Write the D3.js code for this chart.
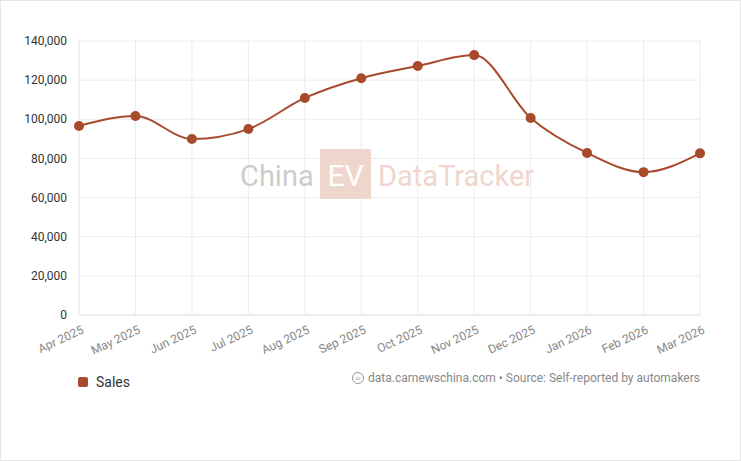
<!DOCTYPE html><html><head><meta charset="utf-8">
<script src="https://cdn.jsdelivr.net/npm/d3@7"></script>
<style>body{margin:0;background:#fff;font-family:Roboto,sans-serif}</style></head><body>
<svg id="c" width="741" height="461"></svg>
<script>
const months=["Apr 2025","May 2025","Jun 2025","Jul 2025","Aug 2025","Sep 2025","Oct 2025","Nov 2025","Dec 2025","Jan 2026","Feb 2026","Mar 2026"];
const sales=[96600,101700,89900,95000,110900,121000,127200,132800,100700,82800,73000,82600];
const yTicks=[0,20000,40000,60000,80000,100000,120000,140000];
const color="#a84a2c";
const svg=d3.select("#c");
svg.append("rect").attr("x",0.5).attr("y",0.5).attr("width",740).attr("height",460).attr("fill","#fff").attr("stroke","#e6e6e6");
const L=79,R=700,T=41,B=315;
const x=d3.scalePoint().domain(months).range([L,R]);
const y=d3.scaleLinear().domain([0,140000]).range([B,T]);
const g=svg.append("g");
yTicks.forEach(t=>{g.append("line").attr("x1",L).attr("x2",R).attr("y1",y(t)).attr("y2",y(t)).attr("stroke",t===0?"#d8d8d8":"#ececec");
 g.append("text").attr("x",L-12).attr("y",y(t)).attr("dy","0.35em").attr("text-anchor","end").attr("font-size",12).attr("fill","#333").text(d3.format(",")(t));});
months.forEach(m=>{g.append("line").attr("x1",x(m)).attr("x2",x(m)).attr("y1",T).attr("y2",B).attr("stroke","#ececec");
 g.append("text").attr("transform",`translate(${x(m)+2},${B+10}) rotate(-25)`).attr("text-anchor","end").attr("dy","0.7em").attr("font-size",12).attr("fill","#888").text(m);});
g.append("line").attr("x1",L).attr("x2",L).attr("y1",T).attr("y2",B).attr("stroke","#ececec");
const wm=svg.append("g");
wm.append("text").attr("x",240).attr("y",186).attr("font-size",29).attr("fill","#cccccc").text("China");
wm.append("rect").attr("x",320).attr("y",149).attr("width",51).attr("height",50).attr("fill","#efd6cd");
wm.append("text").attr("x",345.5).attr("y",186).attr("text-anchor","middle").attr("font-size",30).attr("fill","#fff").text("EV");
wm.append("text").attr("x",378).attr("y",186).attr("font-size",29).attr("fill","#efd6cd").text("DataTracker");
const line=d3.line().x((d,i)=>x(months[i])).y(d=>y(d)).curve(d3.curveMonotoneX);
svg.append("path").datum(sales).attr("d",line).attr("fill","none").attr("stroke",color).attr("stroke-width",2);
svg.selectAll("circle.p").data(sales).join("circle").attr("cx",(d,i)=>x(months[i])).attr("cy",d=>y(d)).attr("r",5).attr("fill",color);
svg.append("rect").attr("x",78).attr("y",377).attr("width",10).attr("height",10).attr("rx",2).attr("fill",color);
svg.append("text").attr("x",96).attr("y",382).attr("dy","0.35em").attr("font-size",14).attr("fill","#333").text("Sales");
svg.append("circle").attr("cx",358).attr("cy",378).attr("r",5.5).attr("fill","none").attr("stroke","#999");
svg.append("text").attr("x",358).attr("y",378.5).attr("dy","0.35em").attr("text-anchor","middle").attr("font-size",5).attr("fill","#999").text("cc");
svg.append("text").attr("x",368).attr("y",378).attr("dy","0.35em").attr("textLength",332).attr("lengthAdjust","spacingAndGlyphs").attr("font-size",12.5).attr("fill","#888").text("data.carnewschina.com • Source: Self-reported by automakers");
</script></body></html>
